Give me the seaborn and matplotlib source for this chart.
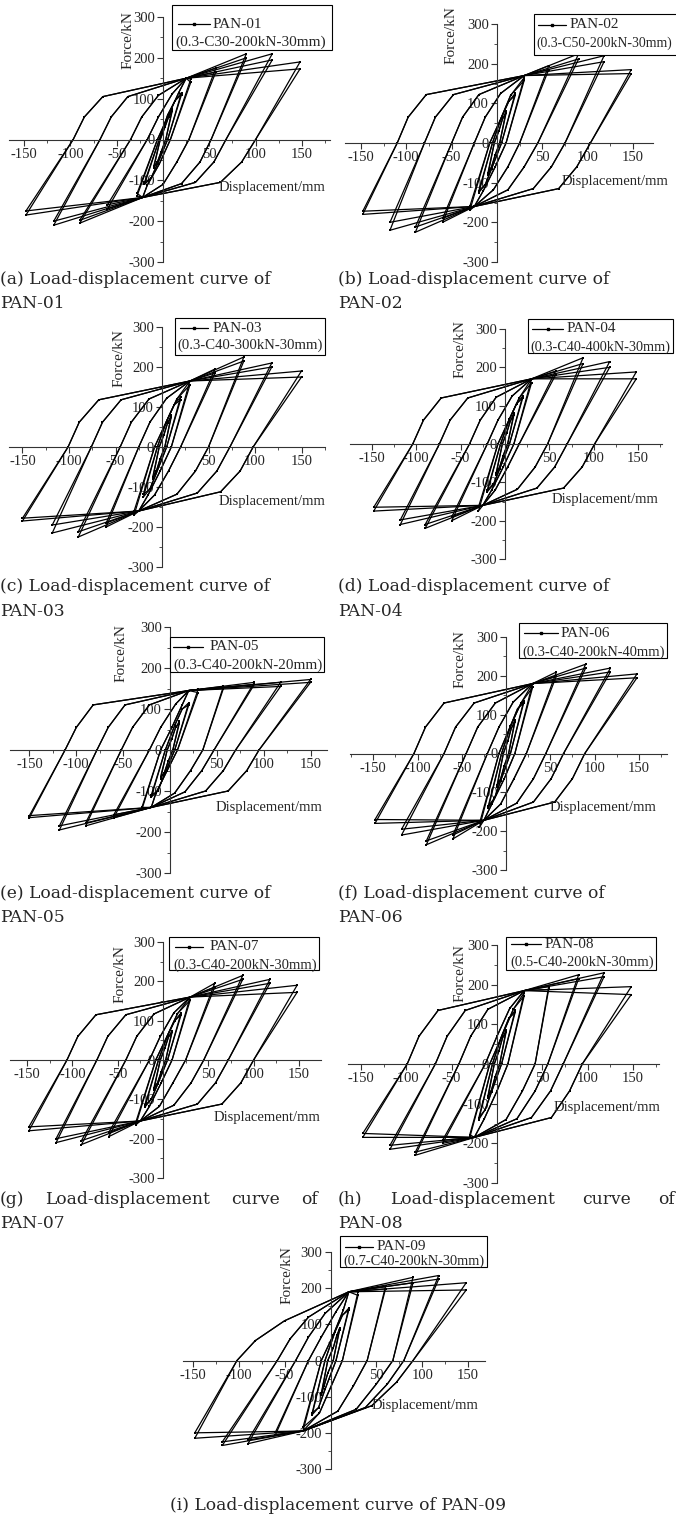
import matplotlib
matplotlib.use("Agg")
import matplotlib.pyplot as plt
import numpy as np
import pandas as pd
import seaborn as sns
from matplotlib.lines import Line2D
from matplotlib.patches import Rectangle
from matplotlib.ticker import MultipleLocator

# ---------------- data ----------------
# one row per loading amplitude; columns:
# x+, F+ cycle1, F+ cycle2, x at F=0 (unloading from +),
#   bend1 x, bend1 F, bend2 x, bend2 F (branch towards -),
# x-, F- cycle1, F- cycle2, x at F=0 (unloading from -),
#   bend1 x, bend1 F, bend2 x, bend2 F (branch towards +)
PAN01_LOOPS = [
    [10, 75, 70, 3, -2, -30, -6, -55, -10, -70, -65, -3, 2, 30, 6, 55],
    [20, 115, 110, 5, -6, -60, -13, -95, -20, -110, -105, -4, 5, 60, 13, 95],
    [30, 148, 140, 8, -4, -60, -17, -112, -28, -138, -132, -6, 6, 60, 17, 115],
    [57, 175, 165, 28, 15, -55, 0, -110, -60, -170, -160, -17, -5, 55, 10, 112],
    [90, 210, 200, 52, 40, -55, 20, -108, -90, -205, -198, -35, -23, 55, -5, 108],
    [118, 210, 195, 68, 55, -55, 35, -105, -118, -210, -200, -68, -56, 55, -38, 105],
    [148, 190, 173, 100, 85, -55, 62, -105, -148, -185, -175, -97, -85, 55, -65, 105],
]
PAN01_MERGE = [[25, 150], [-22, -142]]

PAN02_LOOPS = [
    [10, 80, 75, 3, -2, -30, -6, -60, -10, -80, -75, -3, 2, 30, 6, 60],
    [20, 125, 120, 5, -6, -65, -13, -105, -20, -125, -120, -5, 5, 65, 13, 105],
    [30, 165, 158, 10, -2, -60, -15, -120, -30, -170, -160, -8, 4, 60, 15, 120],
    [57, 195, 185, 25, 12, -60, -4, -118, -60, -200, -190, -25, -13, 65, 4, 125],
    [90, 225, 212, 45, 30, -60, 12, -118, -90, -225, -212, -50, -38, 65, -20, 122],
    [118, 220, 205, 75, 60, -60, 40, -115, -118, -220, -200, -80, -68, 65, -48, 122],
    [148, 185, 175, 103, 88, -60, 68, -115, -148, -180, -172, -110, -98, 65, -78, 122],
]
PAN02_MERGE = [[30, 170], [-25, -160]]

PAN03_LOOPS = [
    [10, 80, 75, 3, -2, -30, -6, -60, -10, -80, -75, -3, 2, 30, 6, 60],
    [20, 125, 118, 5, -6, -65, -13, -105, -20, -125, -118, -5, 5, 65, 13, 105],
    [30, 165, 155, 10, -2, -60, -15, -120, -30, -170, -160, -8, 4, 60, 16, 120],
    [57, 195, 185, 20, 7, -60, -8, -120, -60, -200, -190, -25, -13, 62, 5, 122],
    [88, 225, 215, 50, 36, -60, 16, -118, -90, -225, -212, -45, -33, 62, -14, 120],
    [118, 210, 200, 73, 59, -60, 38, -115, -118, -215, -195, -76, -64, 62, -44, 118],
    [150, 190, 175, 98, 84, -60, 63, -112, -150, -185, -178, -101, -89, 62, -68, 118],
]
PAN03_MERGE = [[30, 165], [-25, -160]]

PAN04_LOOPS = [
    [10, 80, 75, 3, -2, -30, -6, -60, -10, -80, -75, -3, 2, 30, 6, 60],
    [20, 125, 120, 5, -6, -65, -13, -105, -20, -125, -120, -5, 5, 65, 13, 105],
    [30, 170, 160, 10, -2, -60, -15, -120, -30, -175, -165, -8, 4, 60, 16, 120],
    [57, 190, 180, 16, 3, -60, -11, -120, -60, -200, -190, -20, -8, 62, 8, 125],
    [88, 225, 210, 48, 34, -60, 14, -118, -90, -220, -210, -40, -28, 62, -10, 122],
    [118, 215, 200, 70, 56, -60, 36, -115, -118, -210, -198, -74, -62, 62, -42, 120],
    [148, 188, 170, 101, 87, -60, 66, -115, -148, -175, -165, -104, -92, 62, -72, 120],
]
PAN04_MERGE = [[30, 170], [-25, -160]]

PAN05_LOOPS = [
    [10, 70, 65, 3, -2, -28, -6, -55, -10, -70, -65, -3, 2, 28, 6, 55],
    [20, 115, 110, 5, -6, -60, -13, -100, -20, -115, -110, -5, 5, 60, 13, 100],
    [30, 148, 140, 8, -3, -50, -15, -105, -30, -145, -140, -10, 2, 55, 13, 110],
    [57, 155, 150, 35, 22, -50, 5, -105, -60, -165, -158, -22, -10, 55, 6, 112],
    [90, 165, 160, 47, 34, -50, 16, -102, -90, -185, -178, -52, -40, 55, -22, 110],
    [118, 165, 155, 70, 57, -50, 38, -100, -118, -195, -185, -78, -66, 55, -48, 110],
    [150, 172, 165, 95, 82, -50, 62, -100, -150, -165, -160, -112, -100, 55, -82, 110],
]
PAN05_MERGE = [[20, 145], [-20, -140]]

PAN06_LOOPS = [
    [10, 85, 80, 3, -2, -32, -6, -65, -10, -85, -80, -3, 2, 32, 6, 65],
    [20, 135, 130, 5, -6, -70, -13, -115, -20, -140, -135, -5, 5, 70, 13, 115],
    [30, 180, 170, 10, -2, -65, -16, -130, -30, -190, -180, -8, 4, 65, 17, 130],
    [57, 210, 200, 23, 9, -65, -6, -130, -60, -220, -210, -21, -8, 68, 8, 132],
    [90, 230, 220, 45, 31, -65, 12, -128, -90, -235, -225, -45, -32, 68, -12, 130],
    [118, 220, 210, 65, 51, -65, 31, -125, -118, -210, -195, -70, -57, 68, -36, 130],
    [148, 205, 195, 89, 75, -65, 55, -125, -148, -180, -170, -104, -91, 68, -70, 130],
]
PAN06_MERGE = [[30, 180], [-25, -172]]

PAN07_LOOPS = [
    [10, 75, 70, 3, -2, -30, -6, -58, -10, -75, -70, -3, 2, 30, 6, 58],
    [20, 120, 115, 5, -6, -62, -13, -100, -20, -120, -115, -5, 5, 62, 13, 100],
    [30, 160, 152, 10, -2, -58, -15, -118, -30, -165, -158, -8, 4, 58, 16, 118],
    [57, 195, 185, 25, 11, -58, -4, -118, -60, -195, -185, -15, -3, 60, 12, 120],
    [88, 215, 205, 45, 31, -58, 12, -115, -90, -215, -205, -41, -29, 60, -10, 117],
    [118, 205, 195, 72, 58, -58, 38, -112, -118, -210, -200, -73, -61, 60, -41, 115],
    [148, 190, 172, 100, 86, -58, 65, -112, -148, -180, -170, -106, -94, 60, -74, 115],
]
PAN07_MERGE = [[30, 160], [-25, -155]]

PAN08_LOOPS = [
    [10, 85, 80, 3, -2, -32, -6, -65, -10, -85, -80, -3, 2, 32, 6, 65],
    [20, 135, 130, 5, -6, -70, -13, -115, -20, -140, -135, -5, 5, 70, 13, 115],
    [30, 180, 172, 12, 0, -68, -14, -138, -30, -185, -178, -8, 5, 68, 18, 138],
    [57, 195, 188, 42, 28, -68, 10, -140, -60, -200, -192, -13, 0, 70, 14, 140],
    [90, 225, 215, 56, 42, -68, 22, -138, -90, -230, -222, -42, -29, 70, -10, 138],
    [118, 230, 220, 73, 59, -68, 38, -135, -118, -215, -205, -68, -55, 70, -35, 135],
    [148, 195, 175, 94, 80, -68, 60, -135, -148, -185, -175, -99, -86, 70, -65, 135],
]
PAN08_MERGE = [[30, 185], [-25, -185]]

PAN09_LOOPS = [
    [10, 90, 85, 3, -3, -35, -7, -70, -10, -95, -90, -3, 3, 35, 7, 70],
    [20, 145, 140, 6, -6, -80, -13, -130, -20, -150, -145, -6, 5, 80, 13, 125],
    [30, 190, 180, 13, 0, -75, -12, -145, -30, -195, -185, -10, 3, 70, 14, 140],
    [60, 205, 198, 40, 25, -70, 8, -140, -60, -205, -198, -24, -10, 65, 6, 135],
    [90, 230, 215, 68, 50, -65, 28, -135, -90, -230, -220, -38, -24, 65, -6, 130],
    [118, 235, 225, 80, 62, -65, 38, -130, -118, -235, -225, -58, -44, 60, -24, 120],
    [148, 215, 195, 90, 72, -60, 45, -125, -148, -215, -200, -102, -82, 55, -50, 110],
]
PAN09_MERGE = [[20, 190], [-30, -195]]

SPECIMENS = ["PAN-01", "PAN-02", "PAN-03", "PAN-04", "PAN-05",
             "PAN-06", "PAN-07", "PAN-08", "PAN-09"]
PARAMETERS = ["(0.3-C30-200kN-30mm)", "(0.3-C50-200kN-30mm)", "(0.3-C40-300kN-30mm)",
              "(0.3-C40-400kN-30mm)", "(0.3-C40-200kN-20mm)", "(0.3-C40-200kN-40mm)",
              "(0.3-C40-200kN-30mm)", "(0.5-C40-200kN-30mm)", "(0.7-C40-200kN-30mm)"]
LETTERS = ["a", "b", "c", "d", "e", "f", "g", "h", "i"]
X_TICKS = [-150, -100, -50, 50, 100, 150]
Y_TICKS = [-300, -200, -100, 0, 100, 200, 300]
X_LABEL = "Displacement/mm"
Y_LABEL = "Force/kN"
CAPTION = "Load-displacement curve of"

ALL_LOOPS = [PAN01_LOOPS, PAN02_LOOPS, PAN03_LOOPS, PAN04_LOOPS, PAN05_LOOPS,
             PAN06_LOOPS, PAN07_LOOPS, PAN08_LOOPS, PAN09_LOOPS]
ALL_MERGE = [PAN01_MERGE, PAN02_MERGE, PAN03_MERGE, PAN04_MERGE, PAN05_MERGE,
             PAN06_MERGE, PAN07_MERGE, PAN08_MERGE, PAN09_MERGE]

# ---------------- layout (pixels in the 676x1517 picture) ----------------
W, H = 676, 1517
# x of zero displacement, px per mm, x-axis left/right end, y of +300, y of -300
AXES_PX = [
    (163, 0.926, 9, 330, 17, 262),
    (497, 0.907, 345, 653, 24, 262),
    (162, 0.930, 9, 325, 327, 567),
    (505, 0.887, 350, 662, 329, 559),
    (170, 0.937, 10, 327, 627, 873),
    (506, 0.885, 350, 667, 637, 870),
    (163, 0.906, 10, 321, 942, 1178),
    (497, 0.907, 348, 659, 945, 1183),
    (330.5, 0.917, 183, 485, 1252, 1469),
]
# legend: box l,t,r,b ; sample x1,x2,y ; name x ; params x,y
LEG_PX = [
    ((172, 5, 332, 50), (178, 210, 24), 213, (175, 42)),
    ((534, 14, 700, 55), (538, 566, 25), 570, (536, 43)),
    ((175, 318, 325, 355), (180, 208, 328), 213, (177, 345)),
    ((528, 319, 673, 353), (532, 563, 329), 567, (530, 347)),
    ((170, 637, 324, 672), (173, 203, 647), 210, (173, 665)),
    ((519, 623, 667, 658), (524, 558, 633), 561, (522, 652)),
    ((169, 937, 319, 970), (175, 203, 947), 210, (173, 965)),
    ((506, 937, 656, 970), (511, 541, 944), 545, (510, 962)),
    ((340, 1236, 487, 1267), (345, 373, 1247), 377, (343, 1261)),
]
YLAB_PX = [(128, 40), (451, 35), (119, 358), (460, 349), (121, 653),
           (460, 659), (120, 974), (460, 973), (287, 1275)]
XLAB_PX = [(325, 187), (668, 182), (325, 502), (658, 500), (322, 808),
           (656, 808), (320, 1118), (660, 1107), (478, 1406)]
CAP_PX = [(0, 279, 304), (338, 279, 304), (0, 587, 612), (338, 587, 612),
          (0, 893, 918), (338, 893, 918), (0, 1199, 1223), (338, 1199, 1223)]

sns.set_theme(style="white")
plt.rcParams["font.family"] = ["Liberation Serif", "DejaVu Serif"]
plt.rcParams["axes.unicode_minus"] = False

fig = plt.figure(figsize=(W / 100, H / 100), dpi=100)
fig.patch.set_facecolor("white")
renderer = fig.canvas.get_renderer()


def fx(x):
    return x / W


def fy(y):
    return 1 - y / H


def loop_points(row, mp, mn, cyc):
    (xp, fp1, fp2, rp, n1x, n1y, n2x, n2y,
     xn, fn1, fn2, rn, p1x, p1y, p2x, p2y) = row
    fp = fp1 if cyc == 0 else fp2
    fn = fn1 if cyc == 0 else fn2
    pts = [(xp, fp), (rp, 0), (n1x, n1y), (n2x, n2y)]
    if xn < mn[0] < n2x:
        pts.append((mn[0], mn[1]))
    pts += [(xn, fn), (rn, 0), (p1x, p1y), (p2x, p2y)]
    if p2x < mp[0] < xp:
        pts.append((mp[0], mp[1]))
    pts.append((xp, fp))
    return pts


TXT = 10.5
for k in range(9):
    x0, sx, xl, xr, yt, yb = AXES_PX[k]
    ax = fig.add_axes([fx(xl), fy(yb), (xr - xl) / W, (yb - yt) / H])
    ax.set_facecolor("none")

    rows = []
    uid = 0
    for row in ALL_LOOPS[k]:
        for cyc in range(2):
            for (d, f) in loop_points(row, ALL_MERGE[k][0], ALL_MERGE[k][1], cyc):
                rows.append({"d": d, "f": f, "loop": uid})
            uid += 1
    df = pd.DataFrame(rows)
    sns.lineplot(data=df, x="d", y="f", units="loop", estimator=None, sort=False,
                 color="black", linewidth=0.9, marker="s", markersize=1.8,
                 markeredgewidth=0, ax=ax, legend=False)

    ax.set_xlim((xl - x0) / sx, (xr - x0) / sx)
    ax.set_ylim(-300, 300)
    ax.set_xlabel("")
    ax.set_ylabel("")
    for s in ("top", "right"):
        ax.spines[s].set_visible(False)
    ax.spines["left"].set_position(("data", 0))
    ax.spines["bottom"].set_position(("data", 0))
    for s in ("left", "bottom"):
        ax.spines[s].set_color("#333333")
        ax.spines[s].set_linewidth(0.8)
    ax.set_xticks(X_TICKS)
    ax.set_xticklabels([str(v) for v in X_TICKS])
    ax.set_yticks(Y_TICKS)
    ax.set_yticklabels([str(v) for v in Y_TICKS])
    ax.xaxis.set_minor_locator(MultipleLocator(25))
    ax.yaxis.set_minor_locator(MultipleLocator(50))
    ax.tick_params(which="major", direction="out", length=4, width=0.8,
                   color="#333333", labelsize=TXT, pad=2, bottom=True, left=True)
    ax.tick_params(which="minor", direction="out", length=2, width=0.6,
                   color="#333333", bottom=True, left=True)
    ax.grid(False)

    # axis titles
    yx, yy = YLAB_PX[k]
    fig.text(fx(yx), fy(yy), Y_LABEL, rotation=90, ha="center", va="center",
             fontsize=11)
    lx, ly = XLAB_PX[k]
    fig.text(fx(lx), fy(ly), X_LABEL, ha="right", va="center", fontsize=TXT)

    # legend box
    (bl, bt, br, bb), (s1, s2, sy), nx, (px_, py_) = LEG_PX[k]
    fig.add_artist(Rectangle((fx(bl), fy(bb)), (br - bl) / W, (bb - bt) / H,
                             transform=fig.transFigure, facecolor="white",
                             edgecolor="black", linewidth=0.8, zorder=5))
    fig.add_artist(Line2D([fx(s1), fx((s1 + s2) / 2), fx(s2)], [fy(sy)] * 3,
                          transform=fig.transFigure, color="black", lw=0.9,
                          marker="s", markersize=2, markevery=[1], zorder=6))
    fig.text(fx(nx), fy(sy), SPECIMENS[k], ha="left", va="center",
             fontsize=11, zorder=6)
    pt = fig.text(fx(px_), fy(py_), PARAMETERS[k], ha="left", va="center",
                  fontsize=11, zorder=6)
    # fit the parameter line inside its box (and inside the picture)
    avail = min(br, W - 2) - px_ - 2
    wpx = pt.get_window_extent(renderer).width
    if wpx > avail:
        pt.set_fontsize(11 * avail / wpx)

# captions
CAP_FONT = dict(family=["DejaVu Serif"], fontsize=12.3)
for k in range(6):
    cx, c1, c2 = CAP_PX[k]
    fig.text(fx(cx), fy(c1), f"({LETTERS[k]}) {CAPTION}", ha="left", va="center", **CAP_FONT)
    fig.text(fx(cx), fy(c2), SPECIMENS[k], ha="left", va="center", **CAP_FONT)

# justified captions (g) and (h)
for k, (left, right) in zip((6, 7), ((0, 318), (338, 675))):
    cx, c1, c2 = CAP_PX[k]
    words = [f"({LETTERS[k]})"] + CAPTION.split(" ")
    texts = [fig.text(0, fy(c1), w, ha="left", va="center", **CAP_FONT) for w in words]
    widths = [t.get_window_extent(renderer).width for t in texts]
    gap = ((right - left) - sum(widths)) / (len(words) - 1)
    pos = left
    for t, w in zip(texts, widths):
        t.set_x(fx(pos))
        pos += w + gap
    fig.text(fx(cx), fy(c2), SPECIMENS[k], ha="left", va="center", **CAP_FONT)

fig.text(fx(338), fy(1505), f"({LETTERS[8]}) {CAPTION} {SPECIMENS[8]}",
         ha="center", va="center", **CAP_FONT)

fig.savefig("out.png", dpi=100)
